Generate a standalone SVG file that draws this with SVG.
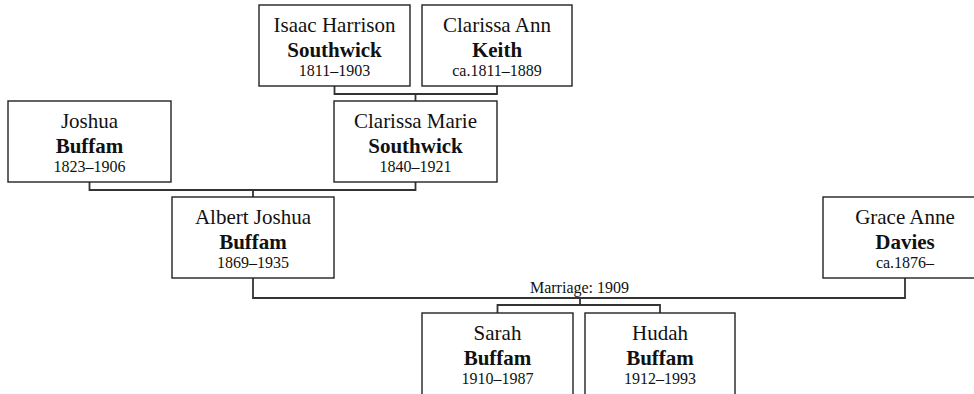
<svg xmlns="http://www.w3.org/2000/svg" width="974" height="394" viewBox="0 0 974 394">
<style>
.box{fill:#fff;stroke:#222;stroke-width:1.4}
.con{fill:none;stroke:#333;stroke-width:1.8}
.t text{fill:#111;text-anchor:middle}
.n{font-size:21px}
.s{font-size:21px;font-weight:bold}
.d{font-size:16px}
.m{font-size:16px}
</style>
<rect width="974" height="394" fill="#fff"/>
<g class="t" font-family="'Liberation Serif', 'Times New Roman', Times, serif">
<g id="connectors">
<path class="con" d="M334.5 86V94H497V86M415.5 94V101"/>
<path class="con" d="M89.5 182V190H415.5V182M253 190V197"/>
<path class="con" d="M253 278V298H905V278M580 298V305M497.5 313V305H660V313"/>
<text class="m" x="579.5" y="293">Marriage: 1909</text>
</g>
<g id="isaac">
<rect class="box" x="259" y="5" width="151" height="81"/>
<text class="n" x="334.5" y="32">Isaac Harrison</text>
<text class="s" x="334.5" y="57">Southwick</text>
<text class="d" x="334.5" y="76">1811–1903</text>
</g>
<g id="clarissa-ann">
<rect class="box" x="422" y="5" width="150" height="81"/>
<text class="n" x="497" y="32">Clarissa Ann</text>
<text class="s" x="497" y="57">Keith</text>
<text class="d" x="497" y="76">ca.1811–1889</text>
</g>
<g id="joshua">
<rect class="box" x="8" y="101" width="163" height="81"/>
<text class="n" x="89.5" y="128">Joshua</text>
<text class="s" x="89.5" y="153">Buffam</text>
<text class="d" x="89.5" y="172">1823–1906</text>
</g>
<g id="clarissa-marie">
<rect class="box" x="334" y="101" width="163" height="81"/>
<text class="n" x="415.5" y="128">Clarissa Marie</text>
<text class="s" x="415.5" y="153">Southwick</text>
<text class="d" x="415.5" y="172">1840–1921</text>
</g>
<g id="albert">
<rect class="box" x="172" y="197" width="162" height="81"/>
<text class="n" x="253" y="224">Albert Joshua</text>
<text class="s" x="253" y="249">Buffam</text>
<text class="d" x="253" y="268">1869–1935</text>
</g>
<g id="grace">
<rect class="box" x="823" y="197" width="164" height="81"/>
<text class="n" x="905" y="224">Grace Anne</text>
<text class="s" x="905" y="249">Davies</text>
<text class="d" x="905" y="268">ca.1876–</text>
</g>
<g id="sarah">
<rect class="box" x="422" y="313" width="151" height="83"/>
<text class="n" x="497.5" y="340">Sarah</text>
<text class="s" x="497.5" y="365">Buffam</text>
<text class="d" x="497.5" y="384">1910–1987</text>
</g>
<g id="hudah">
<rect class="box" x="585" y="313" width="150" height="83"/>
<text class="n" x="660" y="340">Hudah</text>
<text class="s" x="660" y="365">Buffam</text>
<text class="d" x="660" y="384">1912–1993</text>
</g>
</g>
</svg>
